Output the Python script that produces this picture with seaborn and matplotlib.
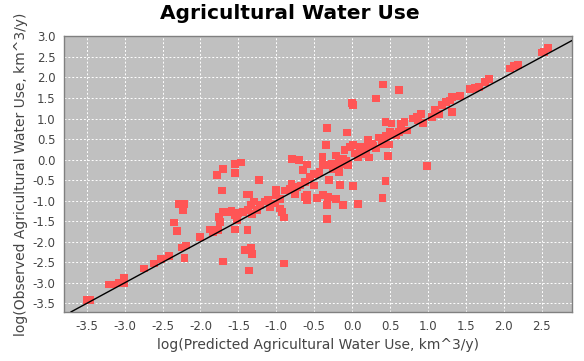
import matplotlib
matplotlib.use("Agg")
import matplotlib.pyplot as plt
import seaborn as sns
import pandas as pd
import numpy as np

title = "Agricultural Water Use"
xlabel = "log(Predicted Agricultural Water Use, km^3/y)"
ylabel = "log(Observed Agricultural Water Use, km^3/y)"

predicted = [
    -3.50, -3.45, -3.21, -3.15, -3.07, -3.01, -3.01, -2.75, -2.61, -2.52, -2.42,
    -2.25, -2.19, -2.21, -2.01, -2.35, -2.31, -2.28, -2.22, -2.23,
    -1.88, -1.83, -1.77, -1.76, -1.74, -1.70, -1.63, -1.59, -1.55, -1.50, -1.44, -1.37, -1.52,
    -1.33, -1.29, -1.26, -1.32, -1.39, -1.36,
    -1.22, -1.15, -1.11, -1.08, -1.02, -1.00, -1.00, -0.95, -0.95, -0.92, -0.90, -0.89,
    -0.82, -0.80, -0.75, -0.73, -0.68, -0.62, -0.56, -0.51,
    -1.78, -1.70, -1.55, -1.46, -1.55, -1.72, -1.23, -1.55, -1.38, -1.42, -1.33, -1.32,
    -1.70, -1.36, -0.90, -0.79, -0.70, -0.59, -0.65, -0.59, -0.59,
    0.00, 0.01, 0.41, 0.62, 0.31, -0.33, -0.07, -0.35,
    -0.49, -0.43, -0.39, -0.39, -0.35, -0.27, -0.21, -0.18, -0.17, -0.12, -0.10, -0.05,
    -0.03, 0.01, 0.04, 0.08, 0.10, 0.17, 0.21, 0.22, 0.26, 0.31, 0.36, 0.39, 0.45, 0.49,
    0.47, 0.50, 0.44, 0.52, 0.58, 0.64, 0.69, 0.72,
    -0.25, -0.15, -0.08, 0.12, 0.18, 0.28, 0.55, 0.62,
    -0.62, -0.50, -0.46, -0.38, -0.32, -0.33, -0.33, -0.30, -0.21, -0.16, -0.12, 0.01,
    0.08, 0.44, 0.40, 0.99,
    0.65, 0.80, 0.85, 0.87, 0.91, 0.94, 1.05, 1.09, 1.15, 1.18, 1.24, 1.29, 1.32, 1.32,
    1.42, 1.56, 1.62, 1.67, 1.75, 1.80, 2.08, 2.14, 2.19, 2.50, 2.58, 2.53,
]
observed = [
    -3.41, -3.41, -3.04, -3.04, -3.00, -2.89, -3.01, -2.65, -2.53, -2.41, -2.34,
    -2.14, -2.09, -2.39, -1.89, -1.53, -1.73, -1.09, -1.09, -1.23,
    -1.70, -1.76, -1.72, -1.40, -1.52, -1.28, -1.28, -1.26, -1.35, -1.30, -1.28, -1.23, -1.46,
    -1.11, -1.02, -1.23, -1.33, -0.85, -0.85,
    -1.11, -1.02, -0.99, -1.15, -1.07, -0.87, -0.73, -0.95, -1.19, -1.28, -1.41, -0.75,
    -0.71, -0.58, -0.83, -0.67, -0.63, -0.55, -0.42, -0.36,
    -0.37, -0.22, -0.10, -0.07, -0.32, -0.75, -0.49, -1.70, -1.72, -2.21, -2.14, -2.29,
    -2.48, -2.70, -2.53, 0.02, 0.00, -0.12, -0.26, -0.87, -0.99,
    1.38, 1.32, 1.83, 1.70, 1.49, 0.78, 0.66, 0.35,
    -0.34, -0.30, 0.06, -0.10, -0.14, -0.10, 0.10, -0.06, -0.30, 0.02, 0.23, -0.14,
    0.31, 0.35, 0.15, 0.06, 0.31, 0.31, 0.47, 0.05, 0.39, 0.27, 0.54, 0.39, 0.57, 0.37,
    0.08, 0.67, 0.92, 0.88, 0.59, 0.86, 0.92, 0.71,
    -0.22, -0.12, -0.02, 0.14, 0.20, 0.33, 0.62, 0.68,
    -0.91, -0.63, -0.93, -0.87, -0.91, -1.11, -1.44, -0.50, -0.95, -0.61, -1.11, -0.65,
    -1.09, -0.53, -0.93, -0.16,
    0.84, 1.00, 1.04, 0.96, 1.12, 0.90, 1.04, 1.20, 1.12, 1.32, 1.40, 1.44, 1.52, 1.16,
    1.54, 1.71, 1.74, 1.77, 1.89, 1.97, 2.22, 2.28, 2.30, 2.61, 2.72, 2.62,
]

x_ticks = [-3.5, -3.0, -2.5, -2.0, -1.5, -1.0, -0.5, 0.0, 0.5, 1.0, 1.5, 2.0, 2.5]
y_ticks = [-3.5, -3.0, -2.5, -2.0, -1.5, -1.0, -0.5, 0.0, 0.5, 1.0, 1.5, 2.0, 2.5, 3.0]

df = pd.DataFrame({"predicted": predicted, "observed": observed})

sns.set_style("white")
plt.rcParams["font.family"] = ["DejaVu Sans"]

fig = plt.figure(figsize=(5.84, 3.61), dpi=100)
ax = fig.add_axes([64 / 584, 1 - 312 / 361, (572 - 64) / 584, (312 - 36) / 361])
ax.set_facecolor("#c0c0c0")

ax.set_xlim(-3.80, 2.90)
ax.set_ylim(-3.71, 3.01)
ax.set_xticks(x_ticks)
ax.set_yticks(y_ticks)
ax.set_xticklabels([f"{v:.1f}" for v in x_ticks])
ax.set_yticklabels([f"{v:.1f}" for v in y_ticks])

ax.grid(True, color="white", linestyle=(0, (2, 2)), linewidth=0.7)
ax.set_axisbelow(True)

sns.scatterplot(data=df, x="predicted", y="observed", ax=ax, marker="s", s=32,
                color="#ff5555", linewidth=0, edgecolor="none", zorder=3)
ax.axline((0, 0), slope=1, color="black", linewidth=1.0, zorder=4)

for s in ax.spines.values():
    s.set_color("#808080")
    s.set_linewidth(1.0)

ax.tick_params(axis="both", direction="out", length=4, width=1, color="#808080",
               labelcolor="#444444", labelsize=8.5, pad=2)

ax.set_xlabel(xlabel, fontsize=10, color="#444444", labelpad=3)
ax.set_ylabel(ylabel, fontsize=10, color="#444444", labelpad=3)
fig.suptitle(title, x=0.497, y=0.99, fontsize=14.5, fontweight="bold", color="black")

fig.savefig("out.png", dpi=100, facecolor="white")
